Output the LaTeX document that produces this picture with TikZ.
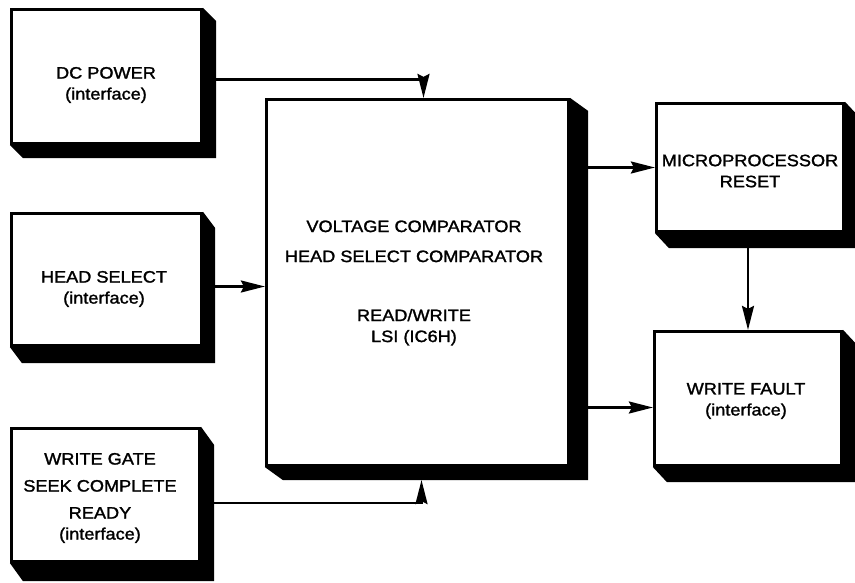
\documentclass[tikz,border=0pt]{standalone}
\usepackage{fontspec}
\setmainfont{Liberation Sans}[FakeStretch=1.1,FakeBold=1.6]
\usepackage{tikz}
\usetikzlibrary{arrows.meta,positioning,calc,backgrounds}

\begin{document}
\begin{tikzpicture}[x=1pt,y=-1pt,
    every node/.style={font=\fontsize{16.5}{21}\selectfont},
    unit/.style   ={rectangle,draw,line width=3.2pt,fill=white,inner sep=0pt},
    caption/.style={align=center,inner sep=0pt},
    sig/.style    ={line width=2.4pt,-{Stealth[length=24pt,width=12pt,inset=3pt]}},
  ]
  \useasboundingbox (0,0) rectangle (855,583);

  % --- interface blocks on the left ---
  \node[unit,minimum width=190pt,minimum height=134pt] (dc)   at (106.5, 76.5) {};
  \node[unit,minimum width=190pt,minimum height=132pt] (head) at (106.5,279.5) {};
  \node[unit,minimum width=188pt,minimum height=133pt] (gate) at (105.5,495.0) {};

  % --- read/write LSI ---
  \node[unit,minimum width=302pt,minimum height=366pt] (main) at (417.5,282.5) {};

  % --- outputs on the right ---
  \node[unit,minimum width=187pt,minimum height=128pt] (micro) at (750,167.5) {};
  \node[unit,minimum width=187pt,minimum height=134pt] (fault) at (748,398.5) {};

  % block texts
  \node[caption] (dct)    at (106, 85) {DC POWER\\(interface)};
  \node[caption] (headt)  at (104,289) {HEAD SELECT\\(interface)};
  \node[caption] (gatet)  at (100,498) {WRITE GATE\\[6pt]SEEK COMPLETE\\[6pt]READY\\(interface)};
  \node[caption] (maint)  at (414,283) {VOLTAGE COMPARATOR\\[9pt]HEAD SELECT COMPARATOR\\[38pt]READ/WRITE\\LSI (IC6H)};
  \node[caption] (microt) at (750,171) {MICROPROCESSOR\\RESET};
  \node[caption] (faultt) at (746,401) {WRITE FAULT\\(interface)};

  % drop shadows
  \begin{scope}[on background layer]
    \foreach \u/\dx/\dy in {dc/13/13,head/12/16,gate/13/18,main/18/13,micro/14/15,fault/14/15}
      \fill (\u.north east) -- ++(\dx,\dy) -- ([shift={(\dx,\dy)}]\u.south east)
            -- ([shift={(\dx,\dy)}]\u.south west) -- (\u.south west) -- cycle;
  \end{scope}

  % signals
  \draw[sig] ([yshift=-3pt]dc.east) -| ([xshift=6pt]main.north);
  \draw[sig] ([yshift=-7pt]head.east) -- ([yshift=-7pt]head.east -| main.west);
  \draw[sig] ([yshift=-8pt]gate.east) -| ([shift={(4pt,-13pt)}]main.south);
  \draw[sig] (micro.west -| main.east) -- (micro.west);
  \draw[sig] ([yshift=-9pt]fault.west -| main.east) -- ([yshift=-9pt]fault.west);
  \draw[sig] (micro.south -| fault.north) -- (fault.north);
\end{tikzpicture}
\end{document}
